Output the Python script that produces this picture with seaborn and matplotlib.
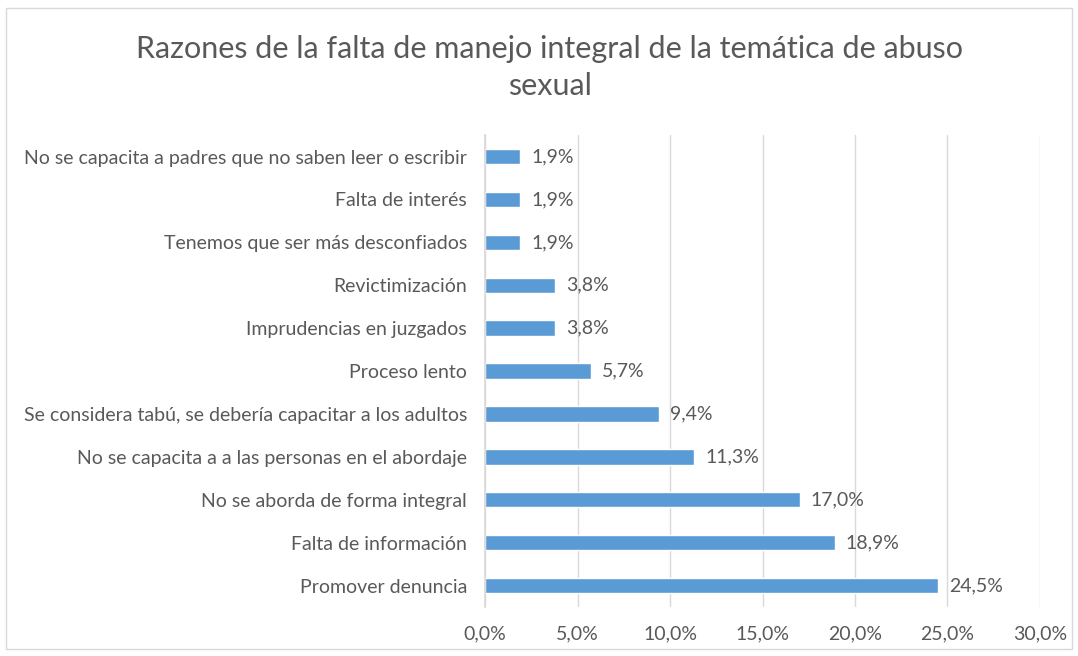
import matplotlib
matplotlib.use("Agg")
import matplotlib.pyplot as plt
import matplotlib.patches as mpatches
from matplotlib.ticker import FuncFormatter
import seaborn as sns
import pandas as pd

razones = [
    "No se capacita a padres que no saben leer o escribir",
    "Falta de interés",
    "Tenemos que ser más desconfiados",
    "Revictimización",
    "Imprudencias en juzgados",
    "Proceso lento",
    "Se considera tabú, se debería capacitar a los adultos",
    "No se capacita a a las personas en el abordaje",
    "No se aborda de forma integral",
    "Falta de información",
    "Promover denuncia",
]
porcentajes = [1.9, 1.9, 1.9, 3.8, 3.8, 5.7, 9.4, 11.3, 17.0, 18.9, 24.5]
ticks = [0, 5, 10, 15, 20, 25, 30]

GRIS = "#595959"
AZUL = "#5B9BD5"

sns.set_theme(style="white")
plt.rcParams["font.family"] = ["Lato", "DejaVu Sans"]

df = pd.DataFrame({"razon": razones, "pct": porcentajes})

fig = plt.figure(figsize=(10.78, 6.56), dpi=100)
ax = fig.add_axes([0.45, 0.0747, 0.5147, 0.7193])

sns.barplot(data=df, x="pct", y="razon", order=razones, color=AZUL,
            width=0.36, saturation=1, ax=ax)

ax.set_xlim(0, 30)
ax.set_xticks(ticks)
ax.xaxis.set_major_formatter(FuncFormatter(lambda v, p: f"{v:.1f}%".replace(".", ",")))
ax.grid(axis="x", color="#D9D9D9", linewidth=1)
ax.set_axisbelow(True)
ax.set_xlabel("")
ax.set_ylabel("")
for s in ["top", "right", "bottom"]:
    ax.spines[s].set_visible(False)
ax.spines["left"].set_color("#D9D9D9")
ax.tick_params(axis="both", length=0, colors=GRIS, labelsize=14)
ax.tick_params(axis="y", pad=13)
ax.tick_params(axis="x", pad=13)

for i, v in enumerate(porcentajes):
    ax.text(v + 0.6, i, f"{v:.1f}%".replace(".", ","), va="center", ha="left",
            color=GRIS, fontsize=14)

fig.text(0.51, 0.897, "Razones de la falta de manejo integral de la temática de abuso\nsexual",
         ha="center", va="center", fontsize=22, color=GRIS, linespacing=1.4)

fig.patches.append(mpatches.Rectangle((0.006, 0.01), 0.988, 0.978, transform=fig.transFigure,
                                      fill=False, edgecolor="#D9D9D9", linewidth=1))

fig.savefig("out.png", dpi=100, facecolor="white")
